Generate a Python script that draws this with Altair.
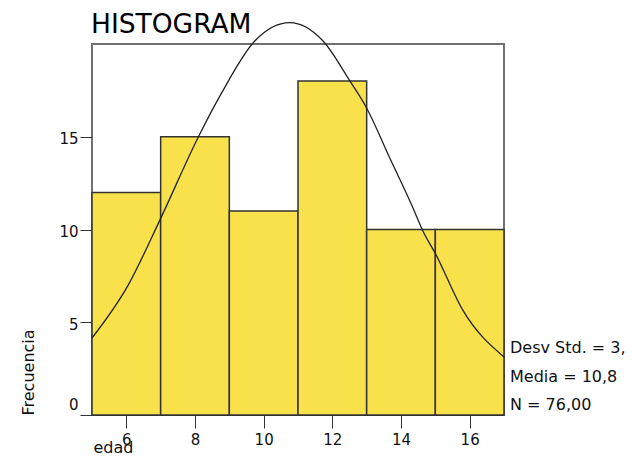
import altair as alt
import pandas as pd

# ---- data ----
bin_start = [5, 7, 9, 11, 13, 15]
bin_end = [7, 9, 11, 13, 15, 17]
counts = [12, 15, 11, 18, 10, 10]

curve_x = [5.0, 6.05, 6.97, 8.09, 8.76, 9.74, 10.76, 11.73, 12.51, 12.99, 13.67, 14.34, 14.63, 15.0, 15.8, 17.0]
curve_y = [4.15, 6.99, 10.48, 14.96, 17.31, 20.16, 21.15, 20.16, 18.01, 16.58, 13.87, 11.2, 9.95, 8.71, 5.65, 3.13]

x_ticks = [6, 8, 10, 12, 14, 16]
y_ticks = [0, 5, 10, 15]

title_text = ["HISTOGRAM"]
stats_lines = ["Desv Std. = 3,", "Media = 10,8", "N = 76,00"]
x_title = "edad"
y_title = "Frecuencia"

FONT = "DejaVu Sans"

bars_df = pd.DataFrame({"start": bin_start, "end": bin_end, "count": counts})
curve_df = pd.DataFrame({"x": curve_x, "y": curve_y})
title_df = pd.DataFrame({"t": title_text})
stats_df = pd.DataFrame({"t": ["\n".join(stats_lines)]})

xscale = alt.Scale(domain=[5, 17], nice=False, zero=False)
yscale = alt.Scale(domain=[0, 20], nice=False)

x_axis = alt.Axis(
    values=x_ticks, format="d", title=x_title,
    tickSize=13, tickColor="#333333", domainColor="#333333",
    labelFont=FONT, labelFontSize=15, labelPadding=4, labelColor="#111111",
    titleFont=FONT, titleX=1, titleY=37, titleAnchor="start", titleAlign="left",
    titleBaseline="alphabetic", titleFontSize=16, titleFontWeight="normal",
    titleColor="#111111", grid=False,
)
y_axis = alt.Axis(
    values=y_ticks, format="d", title=y_title,
    tickSize=12, tickColor="#333333", domain=False,
    labelFont=FONT, labelFontSize=15, labelPadding=2, labelColor="#111111",
    labelOffset={"condition": {"test": "datum.value == 0", "value": -11}, "value": 2},
    titleFont=FONT, titleX=-59, titleY=371, titleAngle=270, titleAnchor="start", titleAlign="left",
    titleBaseline="alphabetic", titleFontSize=16, titleFontWeight="normal",
    titleColor="#111111", grid=False,
)

bars = alt.Chart(bars_df).mark_rect(
    fill="#F8E14B", stroke="#333333", strokeWidth=1.5
).encode(
    x=alt.X("start:Q", scale=xscale, axis=x_axis),
    x2="end:Q",
    y=alt.Y("count:Q", scale=yscale, axis=y_axis),
    y2=alt.datum(0),
)

curve = alt.Chart(curve_df).mark_line(
    interpolate="monotone", color="#222222", strokeWidth=1.3, clip=False
).encode(
    x=alt.X("x:Q", scale=xscale),
    y=alt.Y("y:Q", scale=yscale),
)

title = alt.Chart(title_df).mark_text(
    align="left", baseline="alphabetic", fontSize=26.5, font=FONT, color="#000000"
).encode(
    text="t:N", x=alt.value(-1), y=alt.value(-11)
)

stats = alt.Chart(stats_df).mark_text(
    align="left", baseline="alphabetic", fontSize=16, font=FONT, color="#111111",
    lineBreak="\n", lineHeight=28.5
).encode(
    text="t:N", x=alt.value(418), y=alt.value(309)
)

chart = alt.layer(bars, curve, title, stats).properties(
    width=412, height=371,
    padding={"left": 84, "top": 36, "right": 124, "bottom": 41},
    autosize=alt.AutoSizeParams(type="none"),
    background="white",
).configure_view(
    stroke="#707070", strokeWidth=2
)

chart.save("out.html", embed_options={"renderer": "svg", "actions": False})
